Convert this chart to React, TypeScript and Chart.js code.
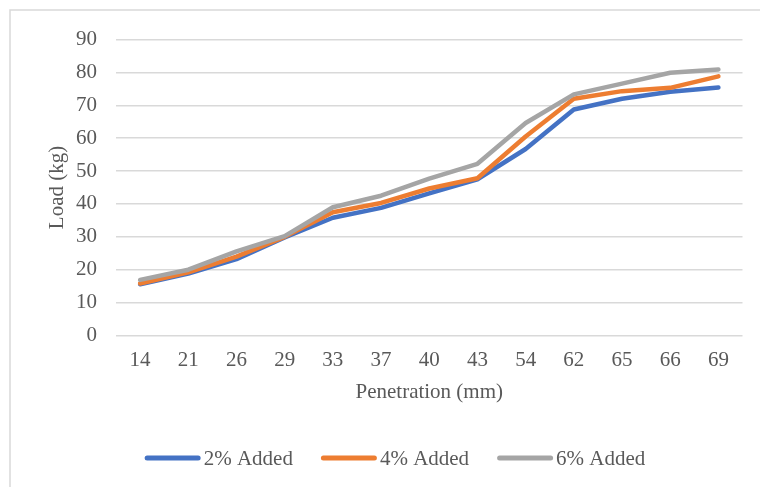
import React, { useEffect, useRef } from "react";
import { Chart, registerables } from "chart.js";

Chart.register(...registerables);

const penetration = ["14", "21", "26", "29", "33", "37", "40", "43", "54", "62", "65", "66", "69"];
const added2 = [15.6, 18.8, 23.2, 29.8, 35.8, 38.8, 43.2, 47.5, 56.7, 68.7, 72.0, 74.1, 75.4];
const added4 = [15.8, 19.2, 24.0, 30.0, 37.5, 40.3, 44.7, 47.8, 60.5, 72.0, 74.3, 75.3, 78.8];
const added6 = [16.9, 20.0, 25.6, 30.2, 39.0, 42.5, 47.7, 52.2, 64.6, 73.3, 76.6, 79.9, 80.9];
const seriesNames = ["2% Added", "4% Added", "6% Added"];
const seriesColors = ["#4472C4", "#ED7D31", "#A5A5A5"];
const yTicks = [0, 10, 20, 30, 40, 50, 60, 70, 80, 90];

const FONT = "'Liberation Serif', 'Times New Roman', serif";
const FONT_SIZE = 21;
const TEXT = "#595959";
const GRID = "#D9D9D9";

// Outer chart frame
const framePlugin = {
  id: "frame",
  beforeDraw(chart: any) {
    const { ctx } = chart;
    ctx.save();
    ctx.strokeStyle = GRID;
    ctx.lineWidth = 1.5;
    ctx.strokeRect(10, 10, 800, 600);
    ctx.restore();
  },
};

// Legend row below the axis title: line swatch + label per series
const legendRow = {
  id: "legendRow",
  afterDraw(chart: any) {
    const { ctx } = chart;
    ctx.save();
    ctx.font = `${FONT_SIZE}px ${FONT}`;
    const swatch = 56;
    const gapText = 3;
    const gapItem = 28;
    const widths = seriesNames.map((n) => ctx.measureText(n).width);
    const total =
      widths.reduce((s, w) => s + swatch + gapText + w, 0) + gapItem * (seriesNames.length - 1);
    let x = 395 - total / 2;
    const y = 458;
    seriesNames.forEach((name, i) => {
      ctx.strokeStyle = seriesColors[i];
      ctx.lineWidth = 5;
      ctx.lineCap = "round";
      ctx.beginPath();
      ctx.moveTo(x + 2.5, y);
      ctx.lineTo(x + swatch - 2.5, y);
      ctx.stroke();
      ctx.fillStyle = TEXT;
      ctx.textBaseline = "middle";
      ctx.textAlign = "left";
      ctx.fillText(name, x + swatch + gapText, y + 1);
      x += swatch + gapText + widths[i] + gapItem;
    });
    ctx.restore();
  },
};

export default function App() {
  const ref = useRef<HTMLCanvasElement | null>(null);

  useEffect(() => {
    if (!ref.current) return;
    const values = [added2, added4, added6];
    const chart = new Chart(ref.current, {
      type: "line",
      data: {
        labels: penetration,
        datasets: values.map((data, i) => ({
          label: seriesNames[i],
          data,
          borderColor: seriesColors[i],
          backgroundColor: seriesColors[i],
          borderWidth: 4.5,
          borderCapStyle: "round",
          borderJoinStyle: "round",
          pointRadius: 0,
          tension: 0,
          order: values.length - i,
        })),
      },
      options: {
        responsive: false,
        animation: false,
        layout: { padding: { left: 0, top: 39.5, right: 17.5, bottom: 82 } },
        plugins: {
          legend: { display: false },
          tooltip: { enabled: false },
        },
        scales: {
          x: {
            type: "category",
            offset: true,
            grid: { display: false, drawTicks: false },
            border: { display: false },
            ticks: {
              padding: 12,
              color: TEXT,
              font: { family: FONT, size: FONT_SIZE },
              maxRotation: 0,
            },
            title: {
              display: true,
              text: "Penetration (mm)",
              color: TEXT,
              font: { family: FONT, size: FONT_SIZE },
              padding: { top: 0, bottom: 0 },
            },
            afterFit(scale: any) {
              scale.height = 69.5;
            },
          },
          y: {
            min: 0,
            max: 90,
            afterBuildTicks(scale: any) {
              scale.ticks = yTicks.map((v) => ({ value: v }));
            },
            grid: { color: GRID, lineWidth: 1.5, drawTicks: false },
            border: { display: false },
            ticks: {
              padding: 19,
              color: TEXT,
              font: { family: FONT, size: FONT_SIZE },
            },
            title: {
              display: true,
              text: "Load (kg)",
              color: TEXT,
              font: { family: FONT, size: FONT_SIZE },
              padding: { top: 44.5, bottom: 0 },
            },
            afterFit(scale: any) {
              scale.width = 116;
            },
          },
        },
      },
      plugins: [framePlugin, legendRow],
    });
    return () => chart.destroy();
  }, []);

  return (
    <div style={{ position: "absolute", left: 0, top: 0, width: 760, height: 487, background: "#fff" }}>
      <canvas ref={ref} width={760} height={487} />
    </div>
  );
}
